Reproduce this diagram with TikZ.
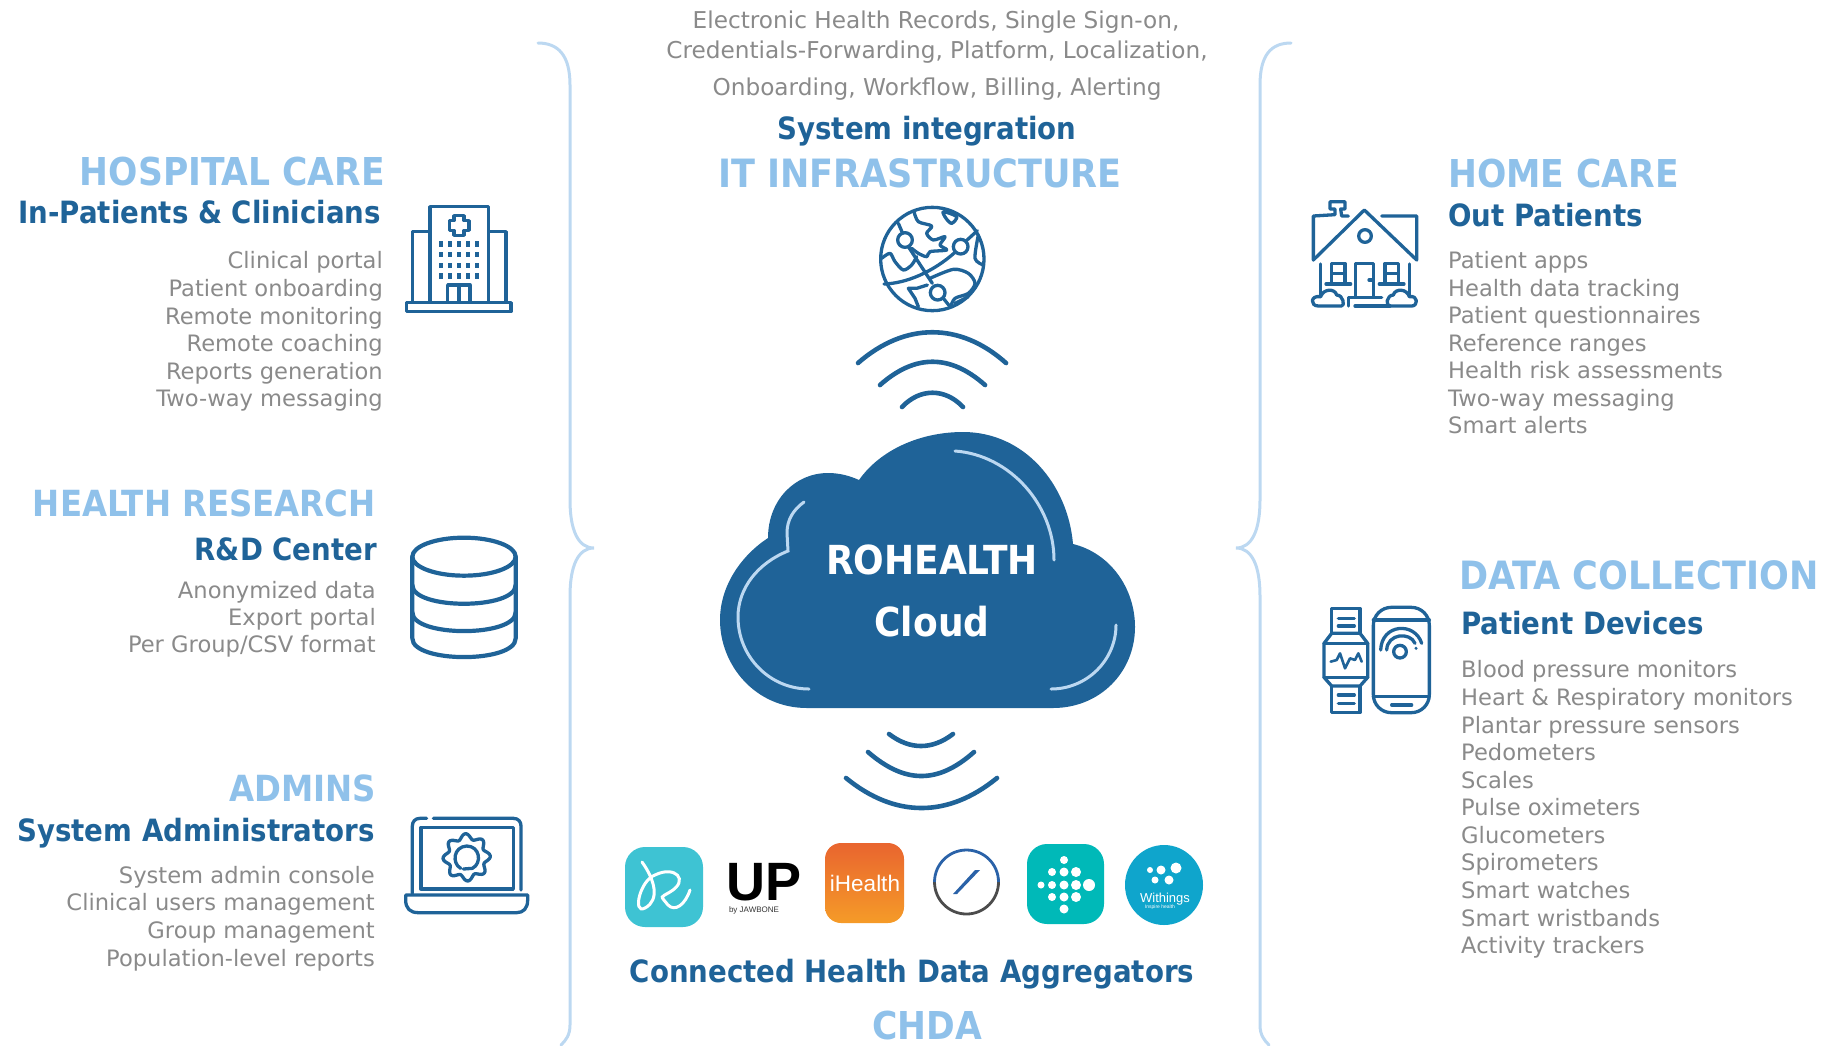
\documentclass[tikz,border=0pt]{standalone}
\usepackage{fontspec}
\setmainfont{DejaVu Sans Condensed}
\newfontfamily\plainfont{DejaVu Sans}
\newfontfamily\logofont{Liberation Sans}
\usetikzlibrary{calc}
\definecolor{dkblue}{HTML}{1F6398}
\definecolor{ltblue}{HTML}{8FC1EA}
\definecolor{brace}{HTML}{BCD8F1}
\definecolor{gtxt}{HTML}{8A8A8A}
\definecolor{logoa}{HTML}{3EC3D3}
\definecolor{logob}{HTML}{00B9B8}
\definecolor{logoc}{HTML}{0FA5CC}
\definecolor{ihtop}{HTML}{E9652F}
\definecolor{ihbot}{HTML}{F59B28}
\definecolor{slash}{HTML}{2A62A8}
\tikzset{
 headtxt/.style={text=ltblue,inner sep=0pt,font=\bfseries\fontsize{#1}{40}\selectfont},
 headtxt/.default=38.4,
 subtxt/.style={text=dkblue,inner sep=0pt,font=\bfseries\fontsize{30.7}{34}\selectfont},
 listtxt/.style={text=gtxt,inner sep=0pt,font=\plainfont\fontsize{22.6}{27}\selectfont},
 toptxt/.style={text=gtxt,inner sep=0pt,font=\plainfont\fontsize{23.2}{28}\selectfont},
 icon/.style={draw=dkblue,line width=3.3pt,line cap=round,line join=round},
 wave/.style={draw=dkblue,line width=4.6pt,line cap=round},
 bracket/.style={draw=brace,line width=3pt,line cap=round},
 glow/.style={draw=brace,line width=3pt,line cap=round},
}
\begin{document}
\begin{tikzpicture}[x=1pt,y=-1pt]
\useasboundingbox (0,0) rectangle (1827,1045);
\clip (0,0) rectangle (1827,1045);
% braces
\draw[bracket] (538,43) .. controls (558,43) and (570,55) .. (570,85) -- (570,500) .. controls (570,530) and (578,548) .. (594,548) .. controls (578,548) and (570,566) .. (570,596) -- (570,1025) .. controls (570,1035) and (566,1040) .. (561,1045);
\draw[bracket] (1291,43) .. controls (1271,43) and (1260,55) .. (1260,85) -- (1260,500) .. controls (1260,530) and (1252,548) .. (1236,548) .. controls (1252,548) and (1260,566) .. (1260,596) -- (1260,1025) .. controls (1260,1035) and (1264,1040) .. (1269,1045);
% top texts
\node[toptxt,anchor=base] (t1) at (936,28) {Electronic Health Records, Single Sign-on,};
\node[toptxt,anchor=base] (t2) at (937,58) {Credentials-Forwarding, Platform, Localization,};
\node[toptxt,anchor=base] (t3) at (937,95) {Onboarding, Workflow, Billing, Alerting};
\node[subtxt,anchor=base] (t4) at (927,139) {System integration};
\node[headtxt=39,anchor=base] (t5) at (920,187) {IT INFRASTRUCTURE};
% hospital
\node[headtxt,anchor=base east] (h1) at (385,185) {HOSPITAL CARE};
\node[subtxt,anchor=base east] (h2) at (381,223) {In-Patients \& Clinicians};
\foreach \i/\y/\t in {1/268/Clinical portal,2/296/Patient onboarding,3/324/Remote monitoring,4/351/Remote coaching,5/379/Reports generation,6/406/Two-way messaging}
  \node[listtxt,anchor=base east] (hl\i) at (383,\y) {\t};
% research
\node[headtxt=36,anchor=base east] (r1) at (376,516) {HEALTH RESEARCH};
\node[subtxt,anchor=base east] (r2) at (377,560) {R\&D Center};
\foreach \i/\y/\t in {1/598/Anonymized data,2/625/Export portal,3/652/{Per Group/CSV format}}
  \node[listtxt,anchor=base east] (rl\i) at (376,\y) {\t};
% admins
\node[headtxt=36,anchor=base east] (a1) at (376,801) {ADMINS};
\node[subtxt,anchor=base east] (a2) at (375,841) {System Administrators};
\foreach \i/\y/\t in {1/883/System admin console,2/910/Clinical users management,3/938/Group management,4/966/Population-level reports}
  \node[listtxt,anchor=base east] (al\i) at (375,\y) {\t};
% home
\node[headtxt,anchor=base west] (c1) at (1448,187) {HOME CARE};
\node[subtxt,anchor=base west] (c2) at (1448,226) {Out Patients};
\foreach \i/\y/\t in {1/268/Patient apps,2/296/Health data tracking,3/323/Patient questionnaires,4/351/Reference ranges,5/378/Health risk assessments,6/406/Two-way messaging,7/433/Smart alerts}
  \node[listtxt,anchor=base west] (cl\i) at (1448,\y) {\t};
% data collection
\node[headtxt=39,anchor=base west] (d1) at (1459,589) {DATA COLLECTION};
\node[subtxt,anchor=base west] (d2) at (1461,634) {Patient Devices};
\foreach \i/\y/\t in {1/677/Blood pressure monitors,2/705/Heart \& Respiratory monitors,3/733/Plantar pressure sensors,4/760/Pedometers,5/788/Scales,6/815/Pulse oximeters,7/843/Glucometers,8/870/Spirometers,9/898/Smart watches,10/926/Smart wristbands,11/953/Activity trackers}
  \node[listtxt,anchor=base west] (dl\i) at (1461,\y) {\t};
% bottom
\node[subtxt,anchor=base] (b1) at (912,982) {Connected Health Data Aggregators};
\node[headtxt,anchor=base] (b2) at (927,1039) {CHDA};
% cloud
\fill[dkblue] (807,708) .. controls (755,708) and (720,665) .. (720,620) .. controls (720,585) and (742,555) .. (768,538) .. controls (768,500) and (795,473) .. (828,473) .. controls (840,473) and (850,476) .. (859,480) .. controls (880,450) and (920,432) .. (963,432) .. controls (1025,432) and (1068,485) .. (1073,544) .. controls (1110,553) and (1135,588) .. (1135,627) .. controls (1135,672) and (1100,708) .. (1053,708) -- cycle;
\draw[glow] (955,451) .. controls (1010,455) and (1054,505) .. (1054,560);
\draw[glow] (804,502) .. controls (793,510) and (787,520) .. (787,533) -- (788,551) .. controls (758,563) and (738,588) .. (738,617) .. controls (738,657) and (770,689) .. (809,689);
\draw[glow] (1051,689) .. controls (1087,689) and (1116,660) .. (1116,625);
\node[inner sep=0pt,anchor=base,text=white,font=\bfseries\fontsize{40}{45}\selectfont] (cl) at (932,574) {ROHEALTH};
\node[inner sep=0pt,anchor=base,text=white,font=\bfseries\fontsize{40}{45}\selectfont] (cc) at (932,636) {Cloud};
% waves
\draw[wave] (858,363) .. controls (905,322) and (960,322) .. (1006,363);
\draw[wave] (880,385) .. controls (915,354) and (950,354) .. (985,385);
\draw[wave] (902,407) .. controls (920,388) and (945,388) .. (963,407);
\draw[wave] (846,778) .. controls (895,818) and (948,818) .. (997,778);
\draw[wave] (868,752) .. controls (905,784) and (938,784) .. (974,752);
\draw[wave] (889,734) .. controls (910,750) and (932,750) .. (953,734);
% globe
\begin{scope}[shift={(840,190)},scale=1/3]
\draw[icon] (277,207) circle[radius=155];
\foreach \x/\y in {195/150,362/170,293/308} \draw[icon] (\x,\y) circle[radius=22];
\draw[icon] (175,100) -- (188,130);
\draw[icon] (205,170) -- (277,280);
\draw[icon] (310,325) -- (330,350);
\draw[icon] (132,282) .. controls (200,280) and (280,245) .. (345,187);
\draw[icon] (378,153) -- (412,122);
\draw[icon] plot[smooth] coordinates {(222,65) (235,95) (275,108) (260,130) (280,150) (315,140) (300,165) (320,180) (270,185) (260,200) (235,190) (215,175)};
\draw[icon] plot[smooth] coordinates {(125,205) (150,190) (165,215) (190,240) (215,225) (230,200)};
\draw[icon] plot[smooth cycle] coordinates {(310,65) (350,80) (335,100) (318,85)};
\draw[icon] plot[smooth] coordinates {(270,265) (340,238) (385,250) (405,280) (385,310) (345,325) (332,350)};
\draw[icon] (262,285) -- (230,295) -- (205,295) -- (225,325) -- (235,350);
\draw[icon] plot[smooth] coordinates {(415,135) (405,205) (430,225)};
\draw[icon] (345,340) -- (385,320);
\end{scope}
% hospital icon
\begin{scope}[shift={(380,180)},scale=1/3]
\draw[icon,line cap=butt] (150,365) -- (150,80) -- (325,80) -- (325,365);
\draw[icon,line cap=butt] (150,155) -- (97,155) -- (97,365);
\draw[icon,line cap=butt] (325,155) -- (378,155) -- (378,365);
\draw[icon,line cap=butt] (80,368) rectangle (393,395);
\draw[icon,line cap=butt] (203,365) -- (203,315) -- (270,315) -- (270,365);
\draw[icon,line cap=butt] (237,315) -- (237,365);
\draw[icon,line cap=butt] (222,107) -- (252,107) -- (252,122) -- (267,122) -- (267,151) -- (252,151) -- (252,166) -- (222,166) -- (222,151) -- (208,151) -- (208,122) -- (222,122) -- cycle;
\foreach \x in {183,210,237,264,291}\foreach \y in {192,224,256,288}
 \fill[dkblue] (\x-6,\y-8) rectangle (\x+6,\y+8);
\end{scope}
% house icon
\begin{scope}[shift={(1290,180)},scale=1/3]
\draw[icon] (70,240) -- (223,90) -- (380,240) -- (380,108) -- (275,108);
\draw[icon] (70,240) -- (70,108) -- (135,104) -- (135,87) -- (120,87) -- (120,65) -- (165,65) -- (165,87) -- (152,87) -- (155,108) -- (175,108);
\draw[icon] (225,168) circle[radius=19];
\draw[icon] (92,252) -- (92,345);
\draw[icon] (358,252) -- (358,345);
\draw[icon] (125,310) -- (125,250) -- (165,250) -- (165,310);
\draw[icon] (125,280) -- (165,280);
\draw[icon] (108,312) -- (182,312);
\draw[icon] (285,310) -- (285,250) -- (325,250) -- (325,310);
\draw[icon] (285,280) -- (325,280);
\draw[icon] (268,312) -- (342,312);
\draw[icon] (197,350) -- (197,250) -- (250,250) -- (250,350);
\draw[icon] (237,300) -- (247,300);
\draw[icon] (175,378) -- (175,352) -- (275,352);
\draw[icon] (195,378) -- (300,378);
\draw[icon] (155,378) -- (85,378) .. controls (60,378) and (60,345) .. (92,350) .. controls (100,325) and (135,325) .. (140,345) .. controls (160,345) and (165,378) .. (155,378);
\draw[icon] (300,378) -- (365,378) .. controls (385,378) and (385,345) .. (358,350) .. controls (350,325) and (315,325) .. (310,345) .. controls (290,345) and (285,378) .. (300,378);
\end{scope}
% database icon
\begin{scope}[shift={(395,525)},scale=1/3]
\draw[icon,line width=4.2pt] (207,95) circle[x radius=155,y radius=57];
\draw[icon,line width=4.2pt] (52,95) -- (52,340) .. controls (52,415) and (362,415) .. (362,340) -- (362,95);
\draw[icon,line width=4.2pt] (52,180) .. controls (52,255) and (362,255) .. (362,180);
\draw[icon,line width=4.2pt] (52,262) .. controls (52,337) and (362,337) .. (362,262);
\end{scope}
% laptop icon
\begin{scope}[shift={(395,800)},scale=1/3]
\draw[icon] (95,55) -- (75,55) .. controls (60,55) and (52,65) .. (52,78) -- (52,280);
\draw[icon] (115,55) -- (355,55) .. controls (370,55) and (378,65) .. (378,78) -- (378,270);
\draw[icon,line cap=butt] (78,82) rectangle (355,267);
\draw[icon] (32,285) -- (398,285) -- (398,300) .. controls (398,325) and (385,338) .. (365,338) -- (70,338) .. controls (45,338) and (32,325) .. (32,300) -- cycle;
\draw[icon] plot[domain=0:360,samples=97,smooth] ({215+(63+8*cos(8*\x+22))*cos(\x)},{172+(63+8*cos(8*\x+22))*sin(\x)});
\draw[icon] (197,205) .. controls (170,190) and (175,140) .. (215,138) .. controls (255,138) and (262,190) .. (232,205) -- (205,207);
\end{scope}
% devices icon
\begin{scope}[shift={(1310,590)},scale=1/3]
\draw[icon,rounded corners=18pt] (190,52) rectangle (358,368);
\draw[icon] (190,90) -- (358,90);
\draw[icon] (190,320) -- (358,320);
\draw[icon] (245,345) -- (305,345);
\draw[icon] (270,185) circle[radius=19];
\draw[icon] (230,180) .. controls (232,130) and (300,125) .. (315,160);
\draw[icon] (212,180) .. controls (215,100) and (315,95) .. (335,160);
\fill[dkblue] (318,175) circle[radius=5];
\draw[icon,line cap=butt] (65,130) -- (65,55) -- (150,55) -- (150,130);
\draw[icon] (85,85) -- (133,85);
\draw[icon] (85,108) -- (133,108);
\draw[icon] (65,130) -- (150,130) -- (173,160) -- (173,262) -- (150,288) -- (65,288) -- (42,262) -- (42,160) -- cycle;
\draw[icon] (42,160) -- (173,160);
\draw[icon] (42,262) -- (173,262);
\draw[icon,line cap=butt] (65,288) -- (65,368) -- (150,368) -- (150,288);
\draw[icon] (85,315) -- (133,315);
\draw[icon] (85,340) -- (133,340);
\draw[icon,line width=2.6pt] (62,215) -- (80,210) -- (90,190) -- (105,235) -- (120,205) -- (135,210) -- (145,190) -- (155,215);
\end{scope}
% logos
\fill[rounded corners=20pt,fill=logoa] (625,847) rectangle (703,927);
\draw[white,line width=3pt,line cap=round] (642,862) .. controls (655,880) and (660,900) .. (645,908) .. controls (632,915) and (640,880) .. (655,875) .. controls (675,865) and (690,880) .. (670,892) .. controls (660,898) and (660,895) .. (668,905) .. controls (675,912) and (685,905) .. (690,890);
\node[inner sep=0pt,anchor=base,font=\logofont\bfseries\fontsize{54}{54}\selectfont,text=black] (up) at (764,900) {UP};
\node[inner sep=0pt,anchor=base,font=\logofont\fontsize{8}{8}\selectfont,text=black!80] (jaw) at (754,912) {by JAWBONE};
\shade[rounded corners=16pt,top color=ihtop,bottom color=ihbot] (825,843) rectangle (904,923);
\node[inner sep=0pt,anchor=base,font=\logofont\fontsize{22.5}{26}\selectfont,text=white] (ih) at (865,891) {iHealth};
\draw[line width=2.8pt,draw=black!70] (934.5,882) arc[start angle=180,end angle=0,radius=32];
\draw[line width=2.8pt,draw=slash] (934.5,882) arc[start angle=180,end angle=360,radius=32];
\fill[slash] (975,870) -- (980,870) -- (957,894) -- (953,894) -- cycle;
\fill[rounded corners=20pt,fill=logob] (1027,844) rectangle (1104,924);
\foreach \x/\y/\r in {1064/860/4,1052/872/4,1064/872/4.5,1076/872/5,1041/885/3.5,1052/885/4,1064/885/4.5,1076/885/5,1089/885/6,1052/897/4,1064/897/4.5,1076/897/5,1064/909/4.5}
  \fill[white] (\x,\y) circle[radius=\r];
\fill[logoc] (1164,885) circle[x radius=39,y radius=40];
\foreach \x/\y/\r in {1150/870/3,1161/870/4.5,1176/868/5.5,1155/880/3.5,1169/880/4.5}
  \fill[white] (\x,\y) circle[radius=\r];
\node[inner sep=0pt,anchor=base,font=\logofont\fontsize{13}{14}\selectfont,text=white] (wi) at (1165,902) {Withings};
\node[inner sep=0pt,anchor=base,font=\logofont\fontsize{5}{6}\selectfont,text=white] (wi2) at (1160,908) {Inspire health};
\end{tikzpicture}
\end{document}
